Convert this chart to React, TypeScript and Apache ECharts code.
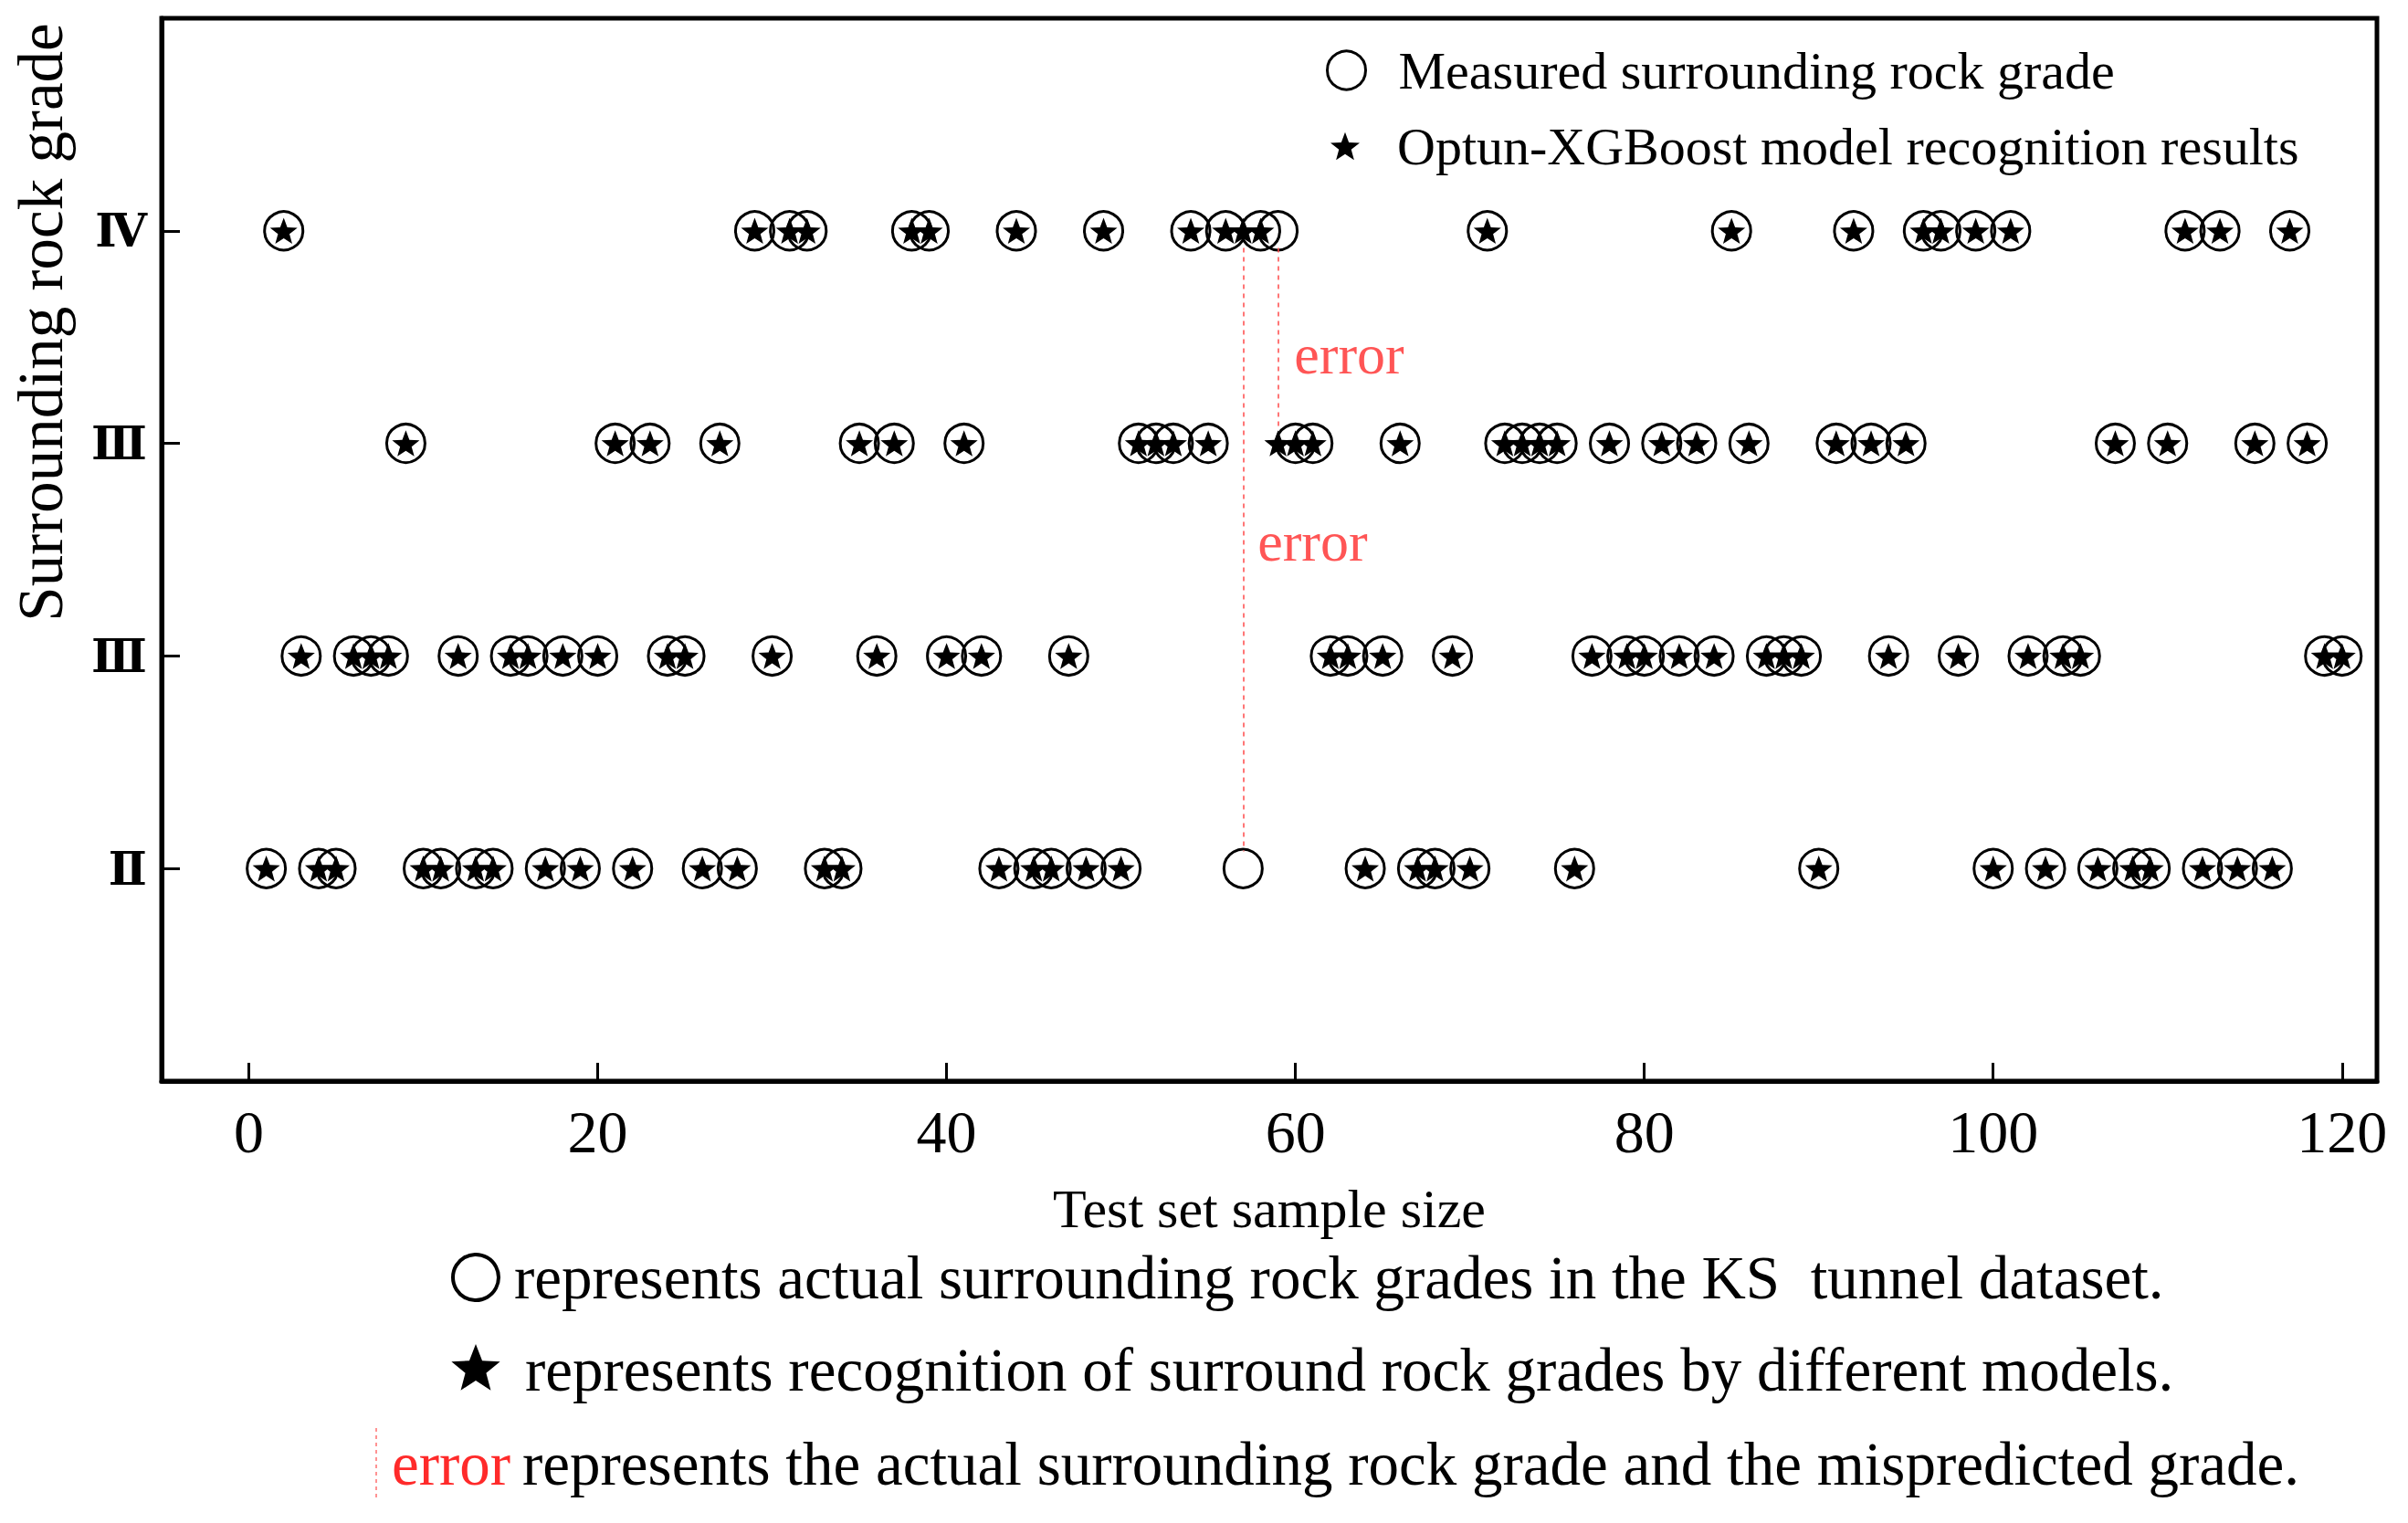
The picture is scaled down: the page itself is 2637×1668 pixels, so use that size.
import React, { useEffect, useRef } from "react";
import * as echarts from "echarts";

// ---------- data ----------
// grade levels on the y axis (bottom to top)
const gradeLevels = [1, 2, 3, 4];
const gradeLabels = ["Ⅱ", "Ⅲ", "Ⅲ", "Ⅳ"];

// measured (actual) surrounding rock grade, sample numbers per grade row
const measuredII = [1, 4, 5, 10, 11, 13, 14, 17, 19, 22, 26, 28, 33, 34, 43, 45, 46, 48, 50, 57, 64, 67, 68, 70, 76, 90, 100, 103, 106, 108, 109, 112, 114, 116];
const measuredIIIa = [3, 6, 7, 8, 12, 15, 16, 18, 20, 24, 25, 30, 36, 40, 42, 47, 62, 63, 65, 69, 77, 79, 80, 82, 84, 87, 88, 89, 94, 98, 102, 104, 105, 119, 120];
const measuredIIIb = [9, 21, 23, 27, 35, 37, 41, 51, 52, 53, 55, 60, 61, 66, 72, 73, 74, 75, 78, 81, 83, 86, 91, 93, 95, 107, 110, 115, 118];
const measuredIV = [2, 29, 31, 32, 38, 39, 44, 49, 54, 56, 58, 59, 71, 85, 92, 96, 97, 99, 101, 111, 113, 117];

// Optun-XGBoost predictions per grade row
const predictedII = [1, 4, 5, 10, 11, 13, 14, 17, 19, 22, 26, 28, 33, 34, 43, 45, 46, 48, 50, 64, 67, 68, 70, 76, 90, 100, 103, 106, 108, 109, 112, 114, 116];
const predictedIIIa = [3, 6, 7, 8, 12, 15, 16, 18, 20, 24, 25, 30, 36, 40, 42, 47, 62, 63, 65, 69, 77, 79, 80, 82, 84, 87, 88, 89, 94, 98, 102, 104, 105, 119, 120];
const predictedIIIb = [9, 21, 23, 27, 35, 37, 41, 51, 52, 53, 55, 59, 60, 61, 66, 72, 73, 74, 75, 78, 81, 83, 86, 91, 93, 95, 107, 110, 115, 118];
const predictedIV = [2, 29, 31, 32, 38, 39, 44, 49, 54, 56, 57, 58, 71, 85, 92, 96, 97, 99, 101, 111, 113, 117];

// misclassified samples: sample, predicted level, actual level
const errorSamples = [57, 59];
const errorPredicted = [4, 3];
const errorActual = [1, 4];

// "error" annotation anchors (x, y in data units)
const errorLabelX = [59.9, 57.8];
const errorLabelY = [3.42, 2.54];

const xTicks = [0, 20, 40, 60, 80, 100, 120];

const LEGEND_MEASURED = "Measured surrounding rock grade";
const LEGEND_PRED = "Optun-XGBoost model recognition results";

// ---------- style ----------
const FONT = '"Liberation Serif", "Times New Roman", serif';
const STAR =
  "path://M0,-50 L12.34,-16.99 L47.55,-15.45 L19.97,6.49 L29.39,40.45 L0,21 L-29.39,40.45 L-19.97,6.49 L-47.55,-15.45 L-12.34,-16.99 Z";

function starPoints(cx: number, cy: number, R: number, r: number) {
  const pts: number[][] = [];
  for (let i = 0; i < 10; i++) {
    const a = -Math.PI / 2 + (i * Math.PI) / 5;
    const rad = i % 2 === 0 ? R : r;
    pts.push([cx + rad * Math.cos(a), cy + rad * Math.sin(a)]);
  }
  return pts;
}

function toPoints(samples: number[], level: number) {
  return samples.map((s) => [s, level]);
}

const measuredData = [
  ...toPoints(measuredII, gradeLevels[0]),
  ...toPoints(measuredIIIa, gradeLevels[1]),
  ...toPoints(measuredIIIb, gradeLevels[2]),
  ...toPoints(measuredIV, gradeLevels[3]),
];
const predictedData = [
  ...toPoints(predictedII, gradeLevels[0]),
  ...toPoints(predictedIIIa, gradeLevels[1]),
  ...toPoints(predictedIIIb, gradeLevels[2]),
  ...toPoints(predictedIV, gradeLevels[3]),
];

const lineGap = 0.08;
const NOTE_SIZE = 67;

export default function App() {
  const ref = useRef<HTMLDivElement>(null);
  useEffect(() => {
    const chart = echarts.init(ref.current!, null, { renderer: "svg" });
    const option: any = {
      animation: false,
      backgroundColor: "#fff",
      grid: {
        left: 177,
        right: 34,
        top: 20,
        bottom: 484,
        show: true,
        borderColor: "#000",
        borderWidth: 5,
        containLabel: false,
      },
      xAxis: {
        type: "value",
        min: -5,
        max: 122,
        name: "Test set sample size",
        nameLocation: "middle",
        nameGap: 110,
        nameTextStyle: { fontFamily: FONT, fontSize: 60, color: "#000" },
        axisLine: { show: true, onZero: false, lineStyle: { color: "#000", width: 5 } },
        axisTick: {
          show: true,
          inside: true,
          length: 20,
          lineStyle: { color: "#000", width: 3 },
          customValues: xTicks,
        },
        axisLabel: {
          fontFamily: FONT,
          fontSize: 66,
          color: "#000",
          margin: 22,
          customValues: xTicks,
        },
        splitLine: { show: false },
      },
      yAxis: {
        type: "value",
        min: 0,
        max: 5,
        axisLine: { show: true, onZero: false, lineStyle: { color: "#000", width: 5 } },
        axisTick: {
          show: true,
          inside: true,
          length: 20,
          lineStyle: { color: "#000", width: 3 },
          customValues: gradeLevels,
        },
        axisLabel: {
          fontFamily: '"DejaVu Serif", serif',
          fontSize: 50,
          fontWeight: "bold",
          color: "#000",
          margin: 16,
          customValues: gradeLevels,
          formatter: (v: number) => {
            const i = gradeLevels.indexOf(v);
            return i >= 0 ? gradeLabels[i] : "";
          },
        },
        splitLine: { show: false },
      },
      legend: [
        {
          data: [LEGEND_MEASURED],
          orient: "vertical",
          left: 1447,
          top: 43,
          itemWidth: 42,
          itemHeight: 42,
          icon: "circle",
          selectedMode: false,
          itemStyle: { color: "rgba(0,0,0,0)", borderColor: "#000", borderWidth: 3 },
          textStyle: { fontFamily: FONT, fontSize: 58, color: "#000", padding: [0, 0, 0, 31] },
        },
        {
          data: [LEGEND_PRED],
          orient: "vertical",
          left: 1452,
          top: 126,
          itemWidth: 32,
          itemHeight: 32,
          icon: STAR,
          selectedMode: false,
          itemStyle: { color: "#000", borderWidth: 0 },
          textStyle: { fontFamily: FONT, fontSize: 58, color: "#000", padding: [0, 0, 0, 36] },
        },
      ],
      series: [
        {
          name: LEGEND_MEASURED,
          type: "scatter",
          symbol: "circle",
          symbolSize: 42,
          itemStyle: { color: "rgba(0,0,0,0)", borderColor: "#000", borderWidth: 3, opacity: 1 },
          data: measuredData,
          z: 2,
          markLine: {
            silent: true,
            symbol: ["none", "none"],
            label: { show: false },
            lineStyle: { color: "#ff4a4a", type: [5, 5], width: 1.5 },
            data: errorSamples.map((s, i) => {
              const top = Math.max(errorPredicted[i], errorActual[i]);
              const bot = Math.min(errorPredicted[i], errorActual[i]);
              return [{ coord: [s, top - lineGap] }, { coord: [s, bot + lineGap] }];
            }),
          },
        },
        {
          name: LEGEND_PRED,
          type: "scatter",
          symbol: STAR,
          symbolSize: 30,
          symbolKeepAspect: true,
          itemStyle: { color: "#000", opacity: 1 },
          data: predictedData,
          z: 3,
        },
        {
          name: "errorLabels",
          type: "scatter",
          symbolSize: 1,
          silent: true,
          itemStyle: { color: "rgba(0,0,0,0)" },
          data: errorLabelX.map((x, i) => [x, errorLabelY[i]]),
          label: {
            show: true,
            position: "right",
            distance: 0,
            formatter: "error",
            fontFamily: FONT,
            fontSize: 62,
            color: "#ff2a2a",
          },
          z: 4,
        },
      ],
      graphic: [
        {
          type: "text",
          x: 45,
          y: 353,
          rotation: Math.PI / 2,
          style: {
            text: "Surrounding rock grade",
            fontFamily: FONT,
            fontSize: 69,
            fill: "#000",
            align: "center",
            verticalAlign: "middle",
          },
        },
        {
          type: "circle",
          shape: { cx: 521, cy: 1399, r: 25 },
          style: { fill: "none", stroke: "#000", lineWidth: 4 },
        },
        {
          type: "text",
          x: 563,
          y: 1399,
          style: {
            text: "represents actual surrounding rock grades in the KS  tunnel dataset.",
            fontFamily: FONT,
            fontSize: NOTE_SIZE,
            fill: "#000",
            align: "left",
            verticalAlign: "middle",
          },
        },
        {
          type: "polygon",
          shape: { points: starPoints(521, 1500, 28, 12) },
          style: { fill: "#000" },
        },
        {
          type: "text",
          x: 575,
          y: 1500,
          style: {
            text: "represents recognition of surround rock grades by different models.",
            fontFamily: FONT,
            fontSize: NOTE_SIZE,
            fill: "#000",
            align: "left",
            verticalAlign: "middle",
          },
        },
        {
          type: "line",
          shape: { x1: 412, y1: 1564, x2: 412, y2: 1640 },
          style: { stroke: "#ff7070", lineWidth: 1.5, lineDash: [4, 4] },
        },
        {
          type: "text",
          x: 429,
          y: 1603,
          style: {
            text: "error",
            fontFamily: FONT,
            fontSize: NOTE_SIZE,
            fill: "#ff2a2a",
            align: "left",
            verticalAlign: "middle",
          },
        },
        {
          type: "text",
          x: 572,
          y: 1603,
          style: {
            text: "represents the actual surrounding rock grade and the mispredicted grade.",
            fontFamily: FONT,
            fontSize: NOTE_SIZE,
            fill: "#000",
            align: "left",
            verticalAlign: "middle",
          },
        },
      ],
    };
    chart.setOption(option);
    return () => chart.dispose();
  }, []);
  return (
    <div
      ref={ref}
      style={{ position: "fixed", left: 0, top: 0, width: 2637, height: 1668, background: "#fff" }}
    />
  );
}
